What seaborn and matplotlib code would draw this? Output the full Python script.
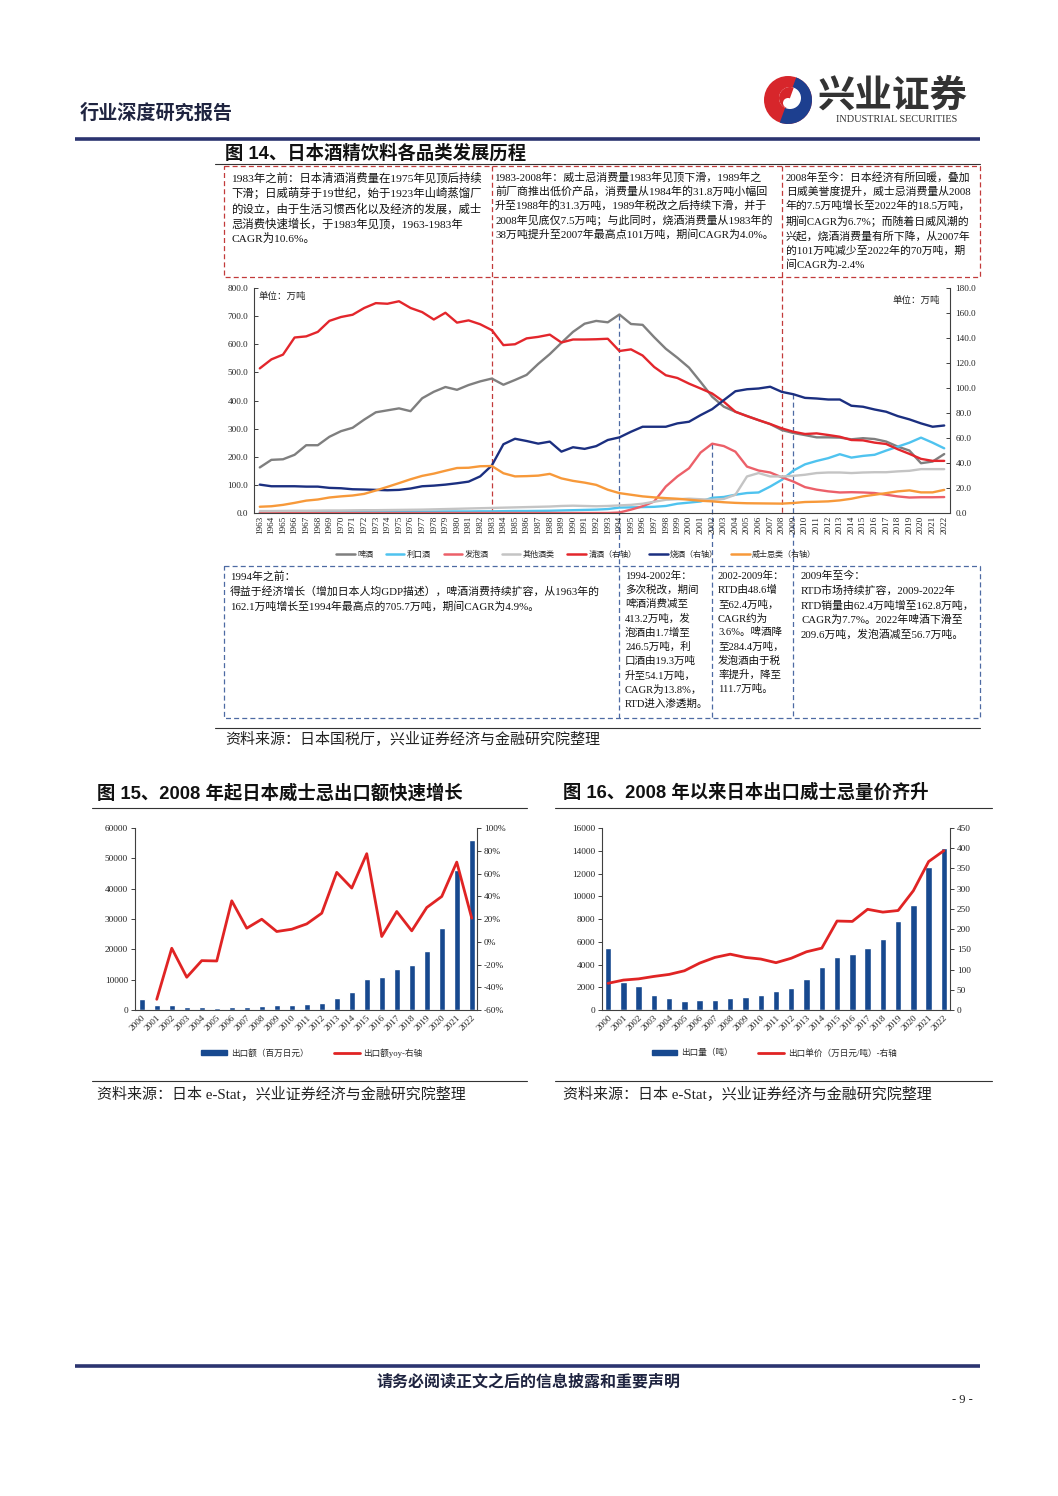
import numpy as np
import pandas as pd
import matplotlib
matplotlib.use("Agg")
import matplotlib.pyplot as plt
import seaborn as sns
from matplotlib.patches import Rectangle, Circle, Wedge, Patch
from matplotlib.lines import Line2D
from matplotlib.ticker import FuncFormatter

sns.set_theme(style="white")
SERIF = ['Liberation Serif', 'Noto Sans CJK SC', 'DejaVu Sans']
SANS = ['Liberation Sans', 'Noto Sans CJK SC', 'DejaVu Sans']
plt.rcParams['font.family'] = SERIF
plt.rcParams['axes.unicode_minus'] = False

# ---------------- data: figure 14 (万吨) ----------------
years = list(range(1963, 2023))
beer = [162, 189, 191, 207, 241, 241, 271, 291, 303, 332,
        358, 365, 372, 362, 408, 431, 448, 438, 455, 468,
        478, 456, 473, 491, 530, 565, 605, 644, 673, 683,
        678, 705.7, 672, 669, 625, 584, 552, 517, 466, 413.2,
        378, 360, 345, 330, 316, 295, 284.4, 277, 269, 269,
        268, 262, 266, 263, 254, 236, 222, 177, 183, 209.6]
liqueur = [2, 2, 2, 2.5, 3, 3, 3, 3.5, 4, 4,
           4.5, 4.5, 4.5, 5, 5, 5, 5.5, 5.5, 5.5, 6,
           6, 6.5, 7, 7, 7.5, 8, 9, 10, 11, 12,
           14, 19.3, 20, 21, 22, 25, 33, 37, 41, 54.1,
           57, 65, 71, 73, 94, 118, 151, 173, 185, 195,
           209, 197, 203, 207, 222, 236, 250, 268, 250, 230]
happoshu = [0] * 31 + [1.7, 12, 24, 41, 94, 130, 159, 215, 246.5,
                       238, 218, 165, 151, 144, 127, 111.7, 92, 83, 77,
                       73, 74, 73, 71, 65, 59, 55, 56, 56, 56.7]
other = [7, 7, 7.5, 8, 8, 8.5, 9, 9, 9.5, 10,
         10, 10.5, 11, 11.5, 12, 13, 14, 15, 16, 17,
         18, 19, 20, 21, 22, 23, 25, 26, 25, 24,
         25, 27, 29, 33, 40, 47, 49, 51, 49, 47,
         50, 65, 130, 142, 130, 130, 132, 136, 142, 144,
         144, 142, 144, 145, 145, 148, 150, 156, 156, 156]
sake = [115.7, 122.9, 126.7, 140.4, 141.3, 144.9, 153.7, 156.8, 158.6, 164.0,
        167.9, 167.4, 169.4, 164.0, 160.7, 154.8, 160.2, 152.3, 154.1, 151.0,
        146.3, 134.3, 135.0, 139.7, 140.9, 142.7, 136.4, 138.8, 138.8, 139.0,
        139.4, 129.6, 130.9, 126.0, 116.8, 110.2, 108.0, 103.5, 99.6, 95.6,
        89.0, 81.0, 77.5, 74.3, 71.2, 67.7, 65.0, 63.2, 63.7, 62.4,
        61.0, 58.4, 58.1, 56.3, 55.2, 51.0, 47.3, 43.3, 41.7, 41.7]
shochu = [22.7, 21.4, 21.4, 21.4, 21.1, 21.1, 20.1, 19.8, 19.0, 18.8,
          18.5, 18.2, 18.5, 19.6, 21.4, 21.9, 22.7, 23.8, 25.1, 29.3,
          38.0, 55.0, 59.4, 57.6, 55.5, 57.1, 49.1, 52.6, 51.3, 53.5,
          58.4, 60.5, 65.0, 69.0, 69.0, 69.0, 71.7, 73.0, 78.3, 83.1,
          90.3, 97.4, 99.0, 99.6, 101.0, 96.9, 95.0, 92.1, 91.6, 90.8,
          90.8, 85.8, 85.0, 82.8, 81.0, 77.5, 74.9, 71.7, 69.0, 70.0]
whisky = [5.0, 5.4, 6.5, 8.1, 9.9, 10.8, 12.4, 13.3, 14.0, 15.3,
          18.0, 20.9, 23.9, 27.0, 29.7, 31.5, 33.8, 36.0, 36.2, 37.4,
          37.6, 31.8, 29.3, 29.5, 29.9, 31.3, 27.7, 25.7, 24.3, 22.5,
          18.6, 15.9, 14.6, 13.3, 12.5, 11.9, 11.4, 10.6, 9.8, 9.3,
          8.6, 8.1, 7.8, 7.7, 7.6, 7.5, 8.0, 8.8, 9.0, 9.3,
          10.1, 11.4, 13.3, 14.6, 15.9, 17.3, 18.1, 16.5, 16.5, 18.5]

left_names = ['啤酒', '利口酒', '发泡酒', '其他酒类']
right_names = ['清酒（右轴）', '烧酒（右轴）', '威士忌类（右轴）']

# ---------------- data: figures 15 / 16 ----------------
exp_years = [str(y) for y in range(2000, 2023)]
export_value = [3500, 1650, 1650, 1100, 880, 660, 990, 1100, 1320, 1540, 1650, 1980,
                2420, 3960, 5840, 10350, 10790, 13540, 14860, 19490, 27080, 46020, 56150]
yoy_years = exp_years[1:]
export_yoy = [-50.6, -5.7, -31.2, -16.6, -16.9, 36.0, 11.9, 19.8, 9.0, 11.0, 15.7,
              25.1, 61.0, 47.2, 77.4, 4.6, 26.6, 9.6, 30.1, 39.8, 70.0, 20.7]
export_volume = [5430, 2500, 2140, 1350, 1060, 790, 910, 880, 1030, 1170, 1350, 1670,
                 1910, 2730, 3820, 4670, 4900, 5430, 6200, 7840, 9190, 12540, 14240]
unit_price = [66, 74, 77, 83, 88, 97, 116, 130, 138, 130, 126, 117,
              128, 144, 153, 220, 219, 249, 242, 246, 295, 367, 394]

# ---------------- colors ----------------
C_LEFT = ['#7f7f7f', '#4fc3ef', '#ec6069', '#c4c4c4']
C_RIGHT = ['#e3262c', '#1b2f80', '#f7993a']
BAR = '#17498f'
RED = '#e02424'
AXC = '#404040'

W, H = 1058, 1496
fig = plt.figure(figsize=(W / 100, H / 100), dpi=100)
fig.patch.set_facecolor('white')
bg = fig.add_axes([0, 0, 1, 1], zorder=0)
bg.set_xlim(0, W)
bg.set_ylim(H, 0)
bg.axis('off')


def rect(x0, y0, x1, y1):
    return [x0 / W, 1 - y1 / H, (x1 - x0) / W, (y1 - y0) / H]


def style_axes(a):
    for s in a.spines.values():
        s.set_color(AXC)
        s.set_linewidth(0.8)


# ---------------- header ----------------
bg.text(80, 113, '行业深度研究报告', fontsize=13.8, fontweight='bold', family=SANS,
        color='#1f2440', va='center', ha='left')
bg.add_patch(Circle((788, 100), 24, fc='#d7262b', ec='none'))
bg.add_patch(Wedge((788, 100), 24, -70, 110, fc='#1d3f8f', ec='none'))
bg.add_patch(Circle((790, 98), 11, fc='white', ec='none'))
bg.add_patch(Wedge((790, 98), 11, 110, 290, fc='#d7262b', ec='none'))
bg.add_patch(Circle((788, 103), 5, fc='white', ec='none'))
bg.text(893, 97, '兴业证券', fontsize=27, family=SANS, fontweight='bold',
        color='#333333', ha='center', va='center')
bg.text(897, 119, 'INDUSTRIAL SECURITIES', fontsize=7.4, family=SERIF,
        color='#333333', ha='center', va='center')
bg.plot([75, 980], [139, 139], color='#2b3470', lw=2.6, solid_capstyle='butt')

# ---------------- figure 14 ----------------
bg.text(225, 153, '图 14、日本酒精饮料各品类发展历程', fontsize=13.2, fontweight='bold',
        family=SANS, color='#111111', va='center', ha='left')
bg.plot([215, 980], [163.5, 163.5], color='#333333', lw=0.8)

ax = fig.add_axes(rect(254, 288, 950, 513), zorder=2)
ax.set_facecolor('none')
ax2 = ax.twinx()
ax2.set_zorder(3)
ax2.set_facecolor('none')

df_main = pd.DataFrame({'year': years, '啤酒': beer, '利口酒': liqueur, '发泡酒': happoshu,
                        '其他酒类': other, '清酒（右轴）': sake, '烧酒（右轴）': shochu,
                        '威士忌类（右轴）': whisky})
for name, col in zip(left_names, C_LEFT):
    sns.lineplot(data=df_main, x='year', y=name, ax=ax, color=col, lw=1.7, legend=False)
for name, col in zip(right_names, C_RIGHT):
    sns.lineplot(data=df_main, x='year', y=name, ax=ax2, color=col, lw=1.7, legend=False)

ax.set_xlim(years[0] - 0.5, years[-1] + 0.5)
ax.set_ylim(0, 800)
ax2.set_ylim(0, 180)
ax.set_yticks(np.arange(0, 801, 100))
ax2.set_yticks(np.arange(0, 181, 20))
fmt1 = FuncFormatter(lambda v, p: f'{v:.1f}')
ax.yaxis.set_major_formatter(fmt1)
ax2.yaxis.set_major_formatter(fmt1)
ax.set_xticks(years)
ax.set_xticklabels([str(y) for y in years], rotation=90)
ax.tick_params(axis='x', length=0, pad=2, labelsize=6.6, labelcolor='#222222')
ax.tick_params(axis='y', direction='in', length=3, pad=4, labelsize=6.6,
               labelcolor='#222222', left=True, color=AXC, width=0.7)
ax2.tick_params(axis='y', direction='in', length=3, pad=4, labelsize=6.6,
                labelcolor='#222222', right=True, color=AXC, width=0.7)
for a in (ax, ax2):
    a.set_xlabel('')
    a.set_ylabel('')
    style_axes(a)
ax.spines['top'].set_visible(False)
ax.spines['right'].set_visible(False)
ax2.spines['top'].set_visible(False)
ax2.spines['left'].set_visible(False)
ax2.spines['bottom'].set_visible(False)

ax.text(0.006, 0.985, '单位：万吨', transform=ax.transAxes, fontsize=6.8, va='top',
        ha='left', family=SERIF, color='#222222')
ax2.text(0.985, 0.965, '单位：万吨', transform=ax2.transAxes, fontsize=6.8, va='top',
         ha='right', family=SERIF, color='#222222')

handles = [Line2D([], [], color=c, lw=1.8) for c in C_LEFT + C_RIGHT]
fig.legend(handles, left_names + right_names, ncol=7, loc='center',
           bbox_to_anchor=(576 / W, 1 - 555 / H), frameon=False,
           prop={'family': SERIF, 'size': 5.8}, handlelength=2.3,
           handletextpad=0.3, columnspacing=1.6)


def to_bg(axis, x, y):
    disp = axis.transData.transform((x, y))
    return bg.transData.inverted().transform(disp)


RED_D = '#c23a3a'
BLUE_D = '#4d6aa3'
DASH = (0, (4, 2.5))
for yr in (1983, 2008):
    xb, yb = to_bg(ax, yr, 0)
    bg.plot([xb, xb], [166, yb], color=RED_D, ls=DASH, lw=0.9)
for yr, axis, series in [(1994, ax, beer), (2002, ax, happoshu), (2009, ax2, shochu)]:
    xb, yb = to_bg(axis, yr, series[years.index(yr)])
    bg.plot([xb, xb], [yb, 718], color=BLUE_D, ls=DASH, lw=0.9)

bg.add_patch(Rectangle((224, 166), 756, 111, fill=False, ec=RED_D, ls=DASH, lw=0.9))
bg.add_patch(Rectangle((224, 566), 756, 152, fill=False, ec=BLUE_D, ls=DASH, lw=0.9))

TXT = dict(fontsize=8.2, family=SERIF, color='#111111', va='top', ha='left', linespacing=1.38)
bg.text(231, 172, '1983年之前：日本清酒消费量在1975年见顶后持续\n'
                  '下滑；日威萌芽于19世纪，始于1923年山崎蒸馏厂\n'
                  '的设立，由于生活习惯西化以及经济的发展，威士\n'
                  '忌消费快速增长，于1983年见顶，1963-1983年\n'
                  'CAGR为10.6%。', **TXT)
bg.text(495, 172, '1983-2008年：威士忌消费量1983年见顶下滑，1989年之\n'
                  '前厂商推出低价产品，消费量从1984年的31.8万吨小幅回\n'
                  '升至1988年的31.3万吨，1989年税改之后持续下滑，并于\n'
                  '2008年见底仅7.5万吨；与此同时，烧酒消费量从1983年的\n'
                  '38万吨提升至2007年最高点101万吨，期间CAGR为4.0%。',
        **dict(TXT, fontsize=7.9))
bg.text(786, 172, '2008年至今：日本经济有所回暖，叠加\n'
                  '日威美誉度提升，威士忌消费量从2008\n'
                  '年的7.5万吨增长至2022年的18.5万吨，\n'
                  '期间CAGR为6.7%；而随着日威风潮的\n'
                  '兴起，烧酒消费量有所下降，从2007年\n'
                  '的101万吨减少至2022年的70万吨，期\n'
                  '间CAGR为-2.4%', **dict(TXT, fontsize=7.8, linespacing=1.45))

TXT2 = dict(TXT, fontsize=7.8, linespacing=1.5)
bg.text(230, 571, '1994年之前：\n'
                  '得益于经济增长（增加日本人均GDP描述），啤酒消费持续扩容，从1963年的\n'
                  '162.1万吨增长至1994年最高点的705.7万吨，期间CAGR为4.9%。', **TXT2)
bg.text(625, 571, '1994-2002年：\n多次税改，期间\n啤酒消费减至\n413.2万吨，发\n'
                  '泡酒由1.7增至\n246.5万吨，利\n口酒由19.3万吨\n升至54.1万吨，\n'
                  'CAGR为13.8%，\nRTD进入渗透期。', **dict(TXT2, fontsize=7.6))
bg.text(718, 571, '2002-2009年：\nRTD由48.6增\n至62.4万吨，\nCAGR约为\n'
                  '3.6%。啤酒降\n至284.4万吨，\n发泡酒由于税\n率提升，降至\n111.7万吨。',
        **dict(TXT2, fontsize=7.6))
bg.text(801, 571, '2009年至今：\nRTD市场持续扩容，2009-2022年\n'
                  'RTD销量由62.4万吨增至162.8万吨，\nCAGR为7.7%。2022年啤酒下滑至\n'
                  '209.6万吨，发泡酒减至56.7万吨。', **TXT2)

bg.plot([215, 980], [728, 728], color='#333333', lw=0.8)
bg.text(225, 740, '资料来源：日本国税厅，兴业证券经济与金融研究院整理', fontsize=10.8,
        family=SERIF, color='#222222', va='center', ha='left')

# ---------------- figures 15 & 16 ----------------
def bar_line_chart(box, bars, line_x, line_y, ylim_l, yticks_l, ylim_r, yticks_r,
                   rfmt, xlim):
    a = fig.add_axes(rect(*box), zorder=2)
    a.set_facecolor('none')
    sns.barplot(x=exp_years, y=bars, ax=a, color=BAR, width=0.42, saturation=1)
    b = a.twinx()
    b.set_zorder(3)
    b.set_facecolor('none')
    xi = [exp_years.index(y) for y in line_x]
    sns.lineplot(x=xi, y=line_y, ax=b, color=RED, lw=2.0, legend=False)
    a.set_xlim(*xlim)
    a.set_ylim(*ylim_l)
    a.set_yticks(yticks_l)
    b.set_ylim(*ylim_r)
    b.set_yticks(yticks_r)
    b.yaxis.set_major_formatter(FuncFormatter(rfmt))
    a.set_xticks(range(len(exp_years)))
    a.set_xticklabels(exp_years, rotation=45, ha='right', rotation_mode='anchor')
    a.tick_params(axis='x', length=0, pad=3, labelsize=6.7, labelcolor='#222222')
    a.tick_params(axis='y', direction='out', length=3, pad=2, labelsize=6.7,
                  labelcolor='#222222', left=True, color=AXC, width=0.7)
    b.tick_params(axis='y', direction='out', length=3, pad=2, labelsize=6.7,
                  labelcolor='#222222', right=True, color=AXC, width=0.7)
    for q in (a, b):
        q.set_xlabel('')
        q.set_ylabel('')
        style_axes(q)
        q.spines['top'].set_visible(False)
    a.spines['right'].set_visible(False)
    b.spines['left'].set_visible(False)
    b.spines['bottom'].set_visible(False)
    return a, b


bg.text(97, 793, '图 15、2008 年起日本威士忌出口额快速增长', fontsize=13.2, fontweight='bold',
        family=SANS, color='#111111', va='center', ha='left')
bg.text(563, 793, '图 16、2008 年以来日本出口威士忌量价齐升', fontsize=13.2, fontweight='bold',
        family=SANS, color='#111111', va='center', ha='left')
for x0, x1 in ((92, 527), (555, 992)):
    bg.plot([x0, x1], [808, 808], color='#333333', lw=0.8)
    bg.plot([x0, x1], [1081, 1081], color='#333333', lw=0.8)

bar_line_chart((135, 828, 477, 1010), export_value, yoy_years, export_yoy,
               (0, 60000), np.arange(0, 60001, 10000), (-60, 100), np.arange(-60, 101, 20),
               lambda v, p: f'{v:.0f}%', (-0.45, 22.35))
bar_line_chart((602, 828, 950, 1010), export_volume, exp_years, unit_price,
               (0, 16000), np.arange(0, 16001, 2000), (0, 450), np.arange(0, 451, 50),
               lambda v, p: f'{v:.0f}', (-0.4, 22.4))

leg_kw = dict(loc='center', frameon=False, ncol=2, prop={'family': SERIF, 'size': 6.2},
              handlelength=3.0, handleheight=0.45, handletextpad=0.4, columnspacing=3.0)
fig.legend([Patch(color=BAR), Line2D([], [], color=RED, lw=2)],
           ['出口额（百万日元）', '出口额yoy-右轴'],
           bbox_to_anchor=(312 / W, 1 - 1053 / H), **leg_kw)
fig.legend([Patch(color=BAR), Line2D([], [], color=RED, lw=2)],
           ['出口量（吨）', '出口单价（万日元/吨）-右轴'],
           bbox_to_anchor=(774 / W, 1 - 1053 / H), **leg_kw)

bg.text(97, 1095, '资料来源：日本 e-Stat，兴业证券经济与金融研究院整理', fontsize=10.8,
        family=SERIF, color='#222222', va='center', ha='left')
bg.text(563, 1095, '资料来源：日本 e-Stat，兴业证券经济与金融研究院整理', fontsize=10.8,
        family=SERIF, color='#222222', va='center', ha='left')

# ---------------- footer ----------------
bg.plot([75, 980], [1366, 1366], color='#2b3470', lw=2.6, solid_capstyle='butt')
bg.text(528, 1381, '请务必阅读正文之后的信息披露和重要声明', fontsize=11.5, fontweight='bold',
        family=SANS, color='#1f2440', va='center', ha='center')
bg.text(962, 1400, '- 9 -', fontsize=9, family=SERIF, color='#222222', va='center', ha='center')

fig.savefig('out.png', dpi=100, facecolor='white')
